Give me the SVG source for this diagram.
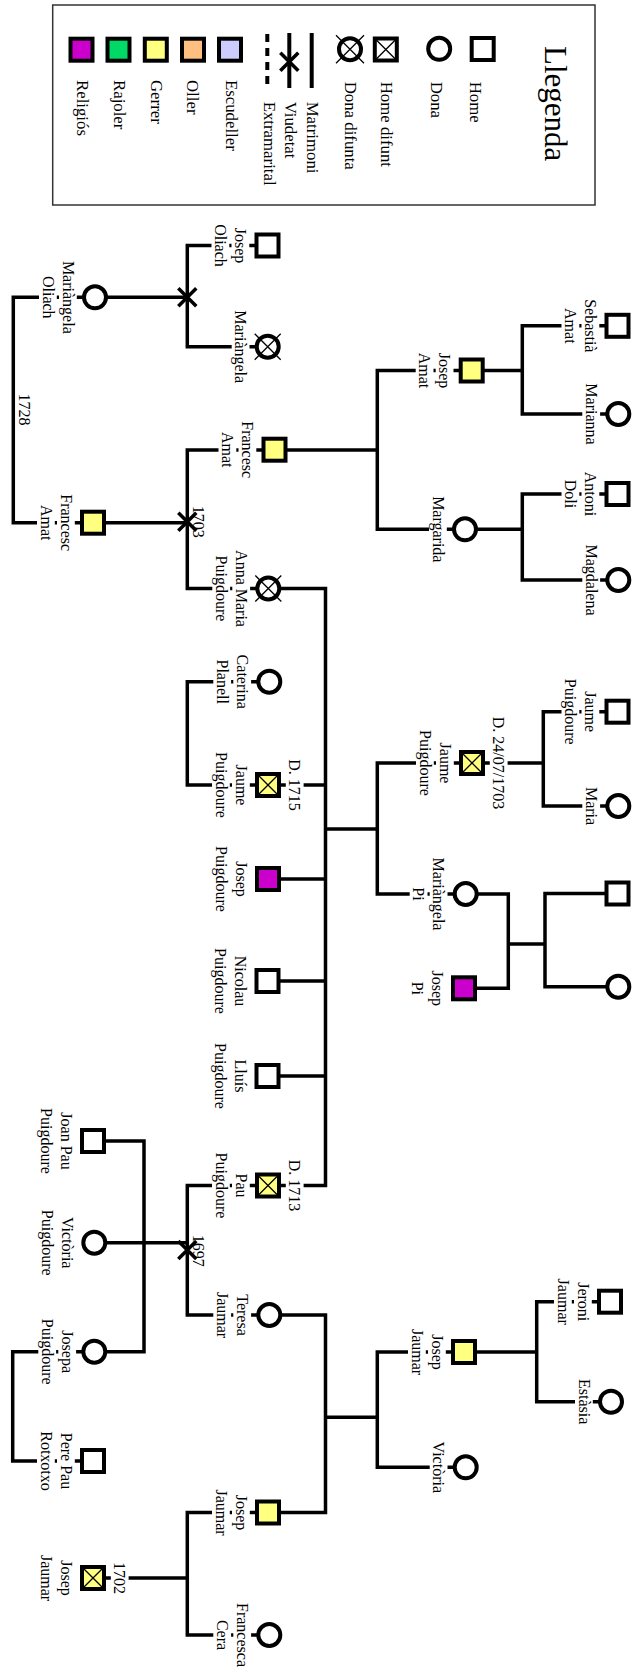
<svg xmlns="http://www.w3.org/2000/svg" width="632" height="1670" viewBox="0 0 632 1670">
<style>
text{font-family:"Liberation Serif","Times New Roman",serif;font-size:16px;fill:#000}
.lg{font-size:16.8px}
.lb{text-anchor:middle}
.sq,.ci{fill:#fff;stroke:#000;stroke-width:4}
.ln{fill:none;stroke:#000;stroke-width:3.5}
.vx{fill:none;stroke:#000;stroke-width:3.5}
.dx{stroke:#000;stroke-width:1.3}
.m{fill:#fff}
.rel{fill:#cc00cc}.raj{fill:#00d966}.ger{fill:#ffff80}.oll{fill:#ffbf80}.esc{fill:#ccccff}
</style>
<defs>
<g id="X"><path class="vx" d="M-9,-9L9,9M-9,9L9,-9"/></g>
<g id="dsq"><rect class="sq ger" x="-11" y="-11" width="22" height="22"/><path class="dx" d="M-9.5,-9.5L9.5,9.5M-9.5,9.5L9.5,-9.5"/></g>
<g id="dci"><circle class="ci" r="11"/><path class="dx" d="M-13,-13L13,13M-13,13L13,-13"/></g>
<rect id="m1" class="m" x="-36" y="-4" width="17.8" height="8"/>
<rect id="m2" class="m" x="-56" y="-4" width="17.8" height="8"/>
<rect id="md" class="m" x="17.8" y="-4" width="17.8" height="8"/>
</defs>

<g id="legend">
<rect x="52.7" y="5" width="542.3" height="200" fill="#fff" stroke="#333" stroke-width="1.5"/>
<text transform="translate(545,46) rotate(90)" style="font-size:31px">Llegenda</text>
<rect class="sq" x="471.7" y="38" width="22" height="22"/>
<text class="lg" transform="translate(469.7,81.7) rotate(90)">Home</text>
<circle class="ci" cx="439.2" cy="48.8" r="11"/>
<text class="lg" transform="translate(431.4,81.7) rotate(90)">Dona</text>
<g transform="translate(385.8,49.5)"><rect class="sq" x="-11" y="-11" width="22" height="22"/><path class="dx" d="M-9.5,-9.5L9.5,9.5M-9.5,9.5L9.5,-9.5"/></g>
<text class="lg" transform="translate(380.5,81.7) rotate(90)">Home difunt</text>
<g transform="translate(350,49.2)"><circle class="ci" r="11"/><path class="dx" d="M-14,-14L14,14M-14,14L14,-14"/></g>
<text class="lg" transform="translate(344.7,81.7) rotate(90)">Dona difunta</text>
<path class="ln" d="M311.7,33V88" style="stroke-width:4"/>
<text class="lg" transform="translate(307.2,101.7) rotate(90)">Matrimoni</text>
<path class="ln" d="M289.3,33V88" style="stroke-width:4"/>
<use href="#X" x="289.3" y="61.7"/>
<text class="lg" transform="translate(284.7,101.7) rotate(90)">Viudetat</text>
<path class="ln" d="M267.3,34V86" style="stroke-width:4" stroke-dasharray="8 6"/>
<text class="lg" transform="translate(263.9,101.7) rotate(90)">Extramarital</text>
<rect class="sq esc" x="219" y="38.7" width="22" height="22"/>
<text class="lg" transform="translate(225.5,80) rotate(90)">Escudeller</text>
<rect class="sq oll" x="182" y="38.7" width="22" height="22"/>
<text class="lg" transform="translate(187.2,80) rotate(90)">Oller</text>
<rect class="sq ger" x="144.8" y="38.7" width="22" height="22"/>
<text class="lg" transform="translate(150.5,80) rotate(90)">Gerrer</text>
<rect class="sq raj" x="107.5" y="38.7" width="22" height="22"/>
<text class="lg" transform="translate(113.9,80) rotate(90)">Rajoler</text>
<rect class="sq rel" x="70.5" y="38.7" width="22" height="22"/>
<text class="lg" transform="translate(77.2,80) rotate(90)">Religiós</text>
</g>

<g id="connectors">
<path class="ln" d="M267.5,245.5H187.3V346.7H267.7"/>
<path class="ln" d="M95,297.3H187.3"/>
<path class="ln" d="M95,297.3H13.3V522.7H93"/>
<path class="ln" d="M274.5,450H187.3V588.5H268.3"/>
<path class="ln" d="M93,522.7H187.3"/>
<path class="ln" d="M274.5,450H377.3"/>
<path class="ln" d="M471.7,370.5H377.3V529.3H465"/>
<path class="ln" d="M617.5,325.8H522.3V414H618.3"/>
<path class="ln" d="M471.7,370.5H522.3"/>
<path class="ln" d="M617.5,494H522.3V580H618.3"/>
<path class="ln" d="M465,529.3H522.3"/>
<path class="ln" d="M268.3,588.5H325.5V1185.5H268"/>
<path class="ln" d="M268,785H325.5M268,879H325.5M267.5,981H325.5M267.5,1076H325.5"/>
<path class="ln" d="M325.5,829H377.3"/>
<path class="ln" d="M472,763H377.3V894H465.7"/>
<path class="ln" d="M269.3,681.7H187.3V785H268"/>
<path class="ln" d="M472,763H543.3"/>
<path class="ln" d="M617.5,711.7H543.3V806H618.3"/>
<path class="ln" d="M465.7,894H508.3V988.3H464"/>
<path class="ln" d="M508.3,944H545"/>
<path class="ln" d="M617.5,893.5H545V986.7H618.3"/>
<path class="ln" d="M93,1141H144V1351.7H94.3"/>
<path class="ln" d="M94.3,1242.7H187.3"/>
<path class="ln" d="M268,1185.5H187.3V1315H269.3"/>
<path class="ln" d="M269.3,1315H325.5V1512.5H268"/>
<path class="ln" d="M325.5,1417.3H377.3"/>
<path class="ln" d="M464,1352H377.3V1467.3H465.7"/>
<path class="ln" d="M464,1352H536.7"/>
<path class="ln" d="M610,1301.7H536.7V1401.7H611"/>
<path class="ln" d="M94.3,1351.7H12.7V1461H93"/>
<path class="ln" d="M268,1512.5H187.3V1635H269.3"/>
<path class="ln" d="M93,1578H187.3"/>
<use href="#X" x="187.3" y="297.3"/>
<use href="#X" x="187.3" y="521.7"/>
<use href="#X" x="187.3" y="1250"/>
<text transform="translate(19,409.5) rotate(90)" class="lb">1728</text>
<text transform="translate(193.3,521.7) rotate(90)" class="lb">1703</text>
<text transform="translate(193.3,1250.8) rotate(90)" class="lb">1697</text>
</g>

<g id="n-josep-oliach" transform="translate(267.5,245.5)"><use href="#m1"/><use href="#m2"/><rect class="sq" x="-11" y="-11" width="22" height="22"/><text class="lb" transform="rotate(90)"><tspan x="0" y="32.5">Josep</tspan><tspan x="0" y="52.5">Oliach</tspan></text></g>
<g id="n-mariangela-oliach" transform="translate(95,297.3)"><use href="#m1"/><use href="#m2"/><circle class="ci" r="11"/><text class="lb" transform="rotate(90)"><tspan x="0" y="32.5">Mariàngela</tspan><tspan x="0" y="52.5">Oliach</tspan></text></g>
<g id="n-mariangela" transform="translate(267.7,346.7)"><use href="#m1"/><use href="#dci"/><text class="lb" transform="rotate(90)"><tspan x="0" y="32.5">Mariàngela</tspan></text></g>
<g id="n-francesc-amat-fill" transform="translate(274.5,449.7)"><use href="#m1"/><use href="#m2"/><rect class="sq ger" x="-11" y="-11" width="22" height="22"/><text class="lb" transform="rotate(90)"><tspan x="0" y="32.5">Francesc</tspan><tspan x="0" y="52.5">Amat</tspan></text></g>
<g id="n-francesc-amat" transform="translate(93,522.7)"><use href="#m1"/><use href="#m2"/><rect class="sq ger" x="-11" y="-11" width="22" height="22"/><text class="lb" transform="rotate(90)"><tspan x="0" y="32.5">Francesc</tspan><tspan x="0" y="52.5">Amat</tspan></text></g>
<g id="n-anna-maria-puigdoure" transform="translate(268.3,588.5)"><use href="#m1"/><use href="#m2"/><use href="#dci"/><text class="lb" transform="rotate(90)"><tspan x="0" y="32.5">Anna Maria</tspan><tspan x="0" y="52.5">Puigdoure</tspan></text></g>
<g id="n-caterina-planell" transform="translate(269.3,681.7)"><use href="#m1"/><use href="#m2"/><circle class="ci" r="11"/><text class="lb" transform="rotate(90)"><tspan x="0" y="32.5">Caterina</tspan><tspan x="0" y="52.5">Planell</tspan></text></g>
<g id="n-jaume-puigdoure" transform="translate(268,785)"><use href="#m1"/><use href="#m2"/><use href="#md"/><use href="#dsq"/><text class="lb" transform="rotate(90)"><tspan x="0" y="32.5">Jaume</tspan><tspan x="0" y="52.5">Puigdoure</tspan><tspan x="0" y="-21.3">D. 1715</tspan></text></g>
<g id="n-josep-puigdoure" transform="translate(268,879)"><use href="#m1"/><use href="#m2"/><rect class="sq rel" x="-11" y="-11" width="22" height="22"/><text class="lb" transform="rotate(90)"><tspan x="0" y="32.5">Josep</tspan><tspan x="0" y="52.5">Puigdoure</tspan></text></g>
<g id="n-nicolau-puigdoure" transform="translate(267.5,981)"><rect class="sq" x="-11" y="-11" width="22" height="22"/><text class="lb" transform="rotate(90)"><tspan x="0" y="32.5">Nicolau</tspan><tspan x="0" y="52.5">Puigdoure</tspan></text></g>
<g id="n-lluis-puigdoure" transform="translate(267.5,1076)"><rect class="sq" x="-11" y="-11" width="22" height="22"/><text class="lb" transform="rotate(90)"><tspan x="0" y="32.5">Lluís</tspan><tspan x="0" y="52.5">Puigdoure</tspan></text></g>
<g id="n-joan-pau-puigdoure" transform="translate(93,1141)"><rect class="sq" x="-11" y="-11" width="22" height="22"/><text class="lb" transform="rotate(90)"><tspan x="0" y="32.5">Joan Pau</tspan><tspan x="0" y="52.5">Puigdoure</tspan></text></g>
<g id="n-pau-puigdoure" transform="translate(268,1185.5)"><use href="#m1"/><use href="#m2"/><use href="#md"/><use href="#dsq"/><text class="lb" transform="rotate(90)"><tspan x="0" y="32.5">Pau</tspan><tspan x="0" y="52.5">Puigdoure</tspan><tspan x="0" y="-21.3">D. 1713</tspan></text></g>
<g id="n-victoria-puigdoure" transform="translate(94.3,1242.7)"><circle class="ci" r="11"/><text class="lb" transform="rotate(90)"><tspan x="0" y="32.5">Victòria</tspan><tspan x="0" y="52.5">Puigdoure</tspan></text></g>
<g id="n-teresa-jaumar" transform="translate(269.3,1315)"><use href="#m1"/><use href="#m2"/><circle class="ci" r="11"/><text class="lb" transform="rotate(90)"><tspan x="0" y="32.5">Teresa</tspan><tspan x="0" y="52.5">Jaumar</tspan></text></g>
<g id="n-josepa-puigdoure" transform="translate(94.3,1351.7)"><use href="#m1"/><use href="#m2"/><circle class="ci" r="11"/><text class="lb" transform="rotate(90)"><tspan x="0" y="32.5">Josepa</tspan><tspan x="0" y="52.5">Puigdoure</tspan></text></g>
<g id="n-pere-pau-rotxotxo" transform="translate(93,1461)"><use href="#m1"/><use href="#m2"/><rect class="sq" x="-11" y="-11" width="22" height="22"/><text class="lb" transform="rotate(90)"><tspan x="0" y="32.5">Pere Pau</tspan><tspan x="0" y="52.5">Rotxotxo</tspan></text></g>
<g id="n-josep-jaumar-fill" transform="translate(268,1512.5)"><use href="#m1"/><use href="#m2"/><rect class="sq ger" x="-11" y="-11" width="22" height="22"/><text class="lb" transform="rotate(90)"><tspan x="0" y="32.5">Josep</tspan><tspan x="0" y="52.5">Jaumar</tspan></text></g>
<g id="n-josep-jaumar" transform="translate(93,1578)"><use href="#md"/><use href="#dsq"/><text class="lb" transform="rotate(90)"><tspan x="0" y="32.5">Josep</tspan><tspan x="0" y="52.5">Jaumar</tspan><tspan x="0" y="-21.3">1702</tspan></text></g>
<g id="n-francesca-cera" transform="translate(269.3,1635)"><use href="#m1"/><use href="#m2"/><circle class="ci" r="11"/><text class="lb" transform="rotate(90)"><tspan x="0" y="32.5">Francesca</tspan><tspan x="0" y="52.5">Cera</tspan></text></g>
<g id="n-josep-amat" transform="translate(471.7,370.5)"><use href="#m1"/><use href="#m2"/><rect class="sq ger" x="-11" y="-11" width="22" height="22"/><text class="lb" transform="rotate(90)"><tspan x="0" y="32.5">Josep</tspan><tspan x="0" y="52.5">Amat</tspan></text></g>
<g id="n-margarida" transform="translate(465,529.3)"><use href="#m1"/><circle class="ci" r="11"/><text class="lb" transform="rotate(90)"><tspan x="0" y="32.5">Margarida</tspan></text></g>
<g id="n-sebastia-amat" transform="translate(617.5,325.8)"><use href="#m1"/><use href="#m2"/><rect class="sq" x="-11" y="-11" width="22" height="22"/><text class="lb" transform="rotate(90)"><tspan x="0" y="32.5">Sebastià</tspan><tspan x="0" y="52.5">Amat</tspan></text></g>
<g id="n-marianna" transform="translate(618.3,414)"><use href="#m1"/><circle class="ci" r="11"/><text class="lb" transform="rotate(90)"><tspan x="0" y="32.5">Marianna</tspan></text></g>
<g id="n-antoni-doli" transform="translate(617.5,494)"><use href="#m1"/><use href="#m2"/><rect class="sq" x="-11" y="-11" width="22" height="22"/><text class="lb" transform="rotate(90)"><tspan x="0" y="32.5">Antoni</tspan><tspan x="0" y="52.5">Doli</tspan></text></g>
<g id="n-magdalena" transform="translate(618.3,580)"><use href="#m1"/><circle class="ci" r="11"/><text class="lb" transform="rotate(90)"><tspan x="0" y="32.5">Magdalena</tspan></text></g>
<g id="n-jaume-puigdoure-pare" transform="translate(472,763)"><use href="#m1"/><use href="#m2"/><use href="#md"/><use href="#dsq"/><text class="lb" transform="rotate(90)"><tspan x="0" y="32.5">Jaume</tspan><tspan x="0" y="52.5">Puigdoure</tspan><tspan x="0" y="-21.3">D. 24/07/1703</tspan></text></g>
<g id="n-mariangela-pi" transform="translate(465.7,894)"><use href="#m1"/><use href="#m2"/><circle class="ci" r="11"/><text class="lb" transform="rotate(90)"><tspan x="0" y="32.5">Mariàngela</tspan><tspan x="0" y="52.5">Pi</tspan></text></g>
<g id="n-josep-pi" transform="translate(464,988.3)"><rect class="sq rel" x="-11" y="-11" width="22" height="22"/><text class="lb" transform="rotate(90)"><tspan x="0" y="32.5">Josep</tspan><tspan x="0" y="52.5">Pi</tspan></text></g>
<g id="n-jaume-puigdoure-avi" transform="translate(617.5,711.7)"><use href="#m1"/><use href="#m2"/><rect class="sq" x="-11" y="-11" width="22" height="22"/><text class="lb" transform="rotate(90)"><tspan x="0" y="32.5">Jaume</tspan><tspan x="0" y="52.5">Puigdoure</tspan></text></g>
<g id="n-maria" transform="translate(618.3,806)"><use href="#m1"/><circle class="ci" r="11"/><text class="lb" transform="rotate(90)"><tspan x="0" y="32.5">Maria</tspan></text></g>
<g id="n-home-pi" transform="translate(617.5,893.5)"><rect class="sq" x="-11" y="-11" width="22" height="22"/></g>
<g id="n-dona-pi" transform="translate(618.3,986.7)"><circle class="ci" r="11"/></g>
<g id="n-josep-jaumar-pare" transform="translate(464,1352)"><use href="#m1"/><use href="#m2"/><rect class="sq ger" x="-11" y="-11" width="22" height="22"/><text class="lb" transform="rotate(90)"><tspan x="0" y="32.5">Josep</tspan><tspan x="0" y="52.5">Jaumar</tspan></text></g>
<g id="n-victoria" transform="translate(465.7,1467.3)"><use href="#m1"/><circle class="ci" r="11"/><text class="lb" transform="rotate(90)"><tspan x="0" y="32.5">Victòria</tspan></text></g>
<g id="n-jeroni-jaumar" transform="translate(610,1301.7)"><use href="#m1"/><use href="#m2"/><rect class="sq" x="-11" y="-11" width="22" height="22"/><text class="lb" transform="rotate(90)"><tspan x="0" y="32.5">Jeroni</tspan><tspan x="0" y="52.5">Jaumar</tspan></text></g>
<g id="n-estasia" transform="translate(611,1401.7)"><use href="#m1"/><circle class="ci" r="11"/><text class="lb" transform="rotate(90)"><tspan x="0" y="32.5">Estàsia</tspan></text></g>
</svg>
